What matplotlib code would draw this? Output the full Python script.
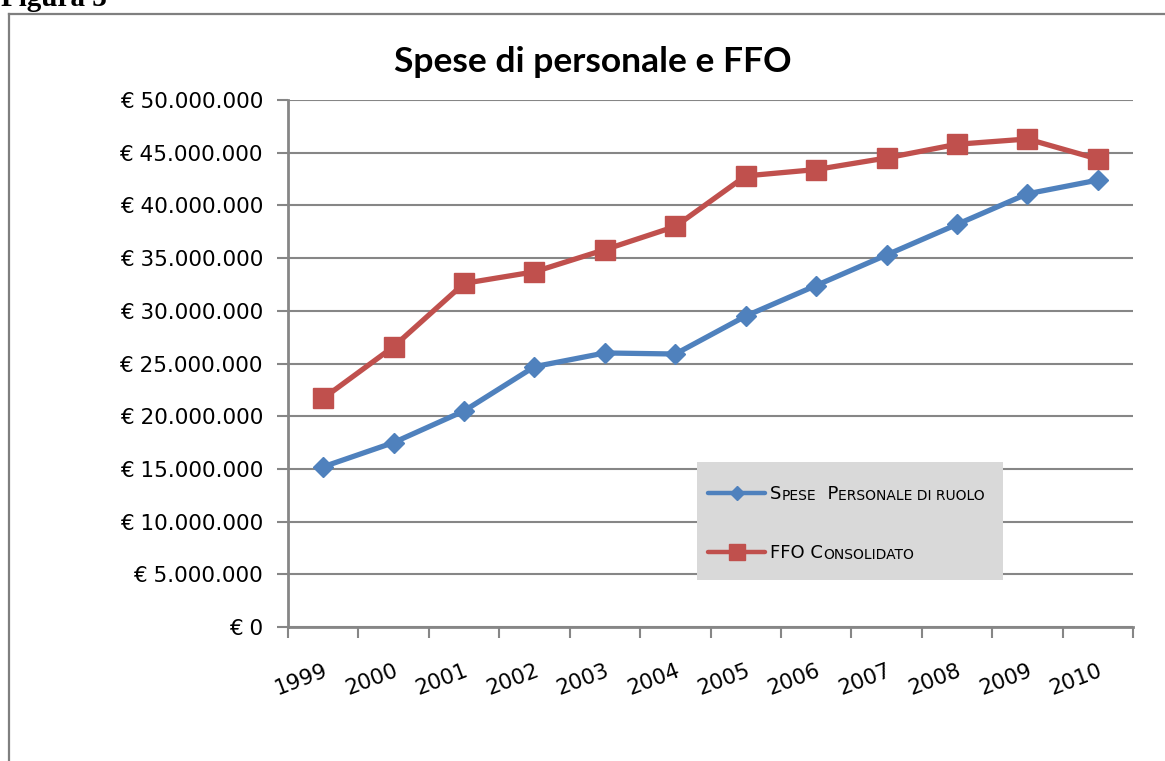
import numpy as np
import matplotlib.pyplot as plt
from matplotlib.lines import Line2D
from matplotlib.patches import Rectangle

# data
anni = ['1999', '2000', '2001', '2002', '2003', '2004',
        '2005', '2006', '2007', '2008', '2009', '2010']
spese_personale = [15.2, 17.5, 20.5, 24.7, 26.0, 25.9,
                   29.5, 32.4, 35.3, 38.2, 41.1, 42.4]   # milioni di euro
ffo_consolidato = [21.7, 26.6, 32.6, 33.7, 35.8, 38.0,
                   42.8, 43.4, 44.5, 45.8, 46.3, 44.4]   # milioni di euro
y_ticks = np.arange(0, 55, 5)

blu = '#4F81BD'
rosso = '#C0504D'
grigio = '#868686'

plt.rcParams['font.family'] = ['DejaVu Sans']

W, H = 1165, 761
fig = plt.figure(figsize=(W / 100, H / 100), dpi=100)

# cornice esterna e didascalia tagliata
fig.add_artist(Line2D([9 / W, 9 / W], [0, 1 - 14 / H], color='#7f7f7f', lw=1.6))
fig.add_artist(Line2D([9 / W, 1], [1 - 14 / H, 1 - 14 / H], color='#7f7f7f', lw=1.6))
fig.text(1 / W, 1 - 6 / H, 'Figura 3', family='Liberation Serif', weight='bold',
         fontsize=21, va='baseline', ha='left')

ax = fig.add_axes([288 / W, 1 - 627 / H, (1133 - 288) / W, (627 - 100) / H])

x = np.arange(len(anni))
ax.plot(x, spese_personale, color=blu, lw=3.8, marker='D', markersize=10,
        solid_capstyle='round', zorder=3)
ax.plot(x, ffo_consolidato, color=rosso, lw=3.8, marker='s', markersize=14,
        solid_capstyle='round', zorder=3)

ax.set_xlim(-0.5, len(anni) - 0.5)
ax.set_ylim(0, 50)

ax.set_yticks(y_ticks)
ax.set_yticklabels(['€ 0' if v == 0 else '€ ' + f'{v * 1000000:,.0f}'.replace(',', '.')
                    for v in y_ticks], fontsize=15.5)
ax.yaxis.grid(True, color=grigio, lw=1.5)
ax.set_axisbelow(True)

ax.set_xticks(np.arange(-0.5, len(anni), 1))
ax.set_xticklabels([])
ax.set_xticks(x, minor=True)
ax.set_xticklabels(anni, minor=True, rotation=21, ha='right',
                   rotation_mode='anchor', fontsize=15.5)
ax.tick_params(axis='x', which='minor', length=0, pad=24)
ax.tick_params(axis='x', which='major', length=8, width=1.5, color=grigio)
ax.tick_params(axis='y', length=8, width=1.5, color=grigio, pad=10)

for s in ['top', 'right']:
    ax.spines[s].set_visible(False)
for s in ['left', 'bottom']:
    ax.spines[s].set_color(grigio)
    ax.spines[s].set_linewidth(2)

fig.text((395 + 790) / 2 / W, 1 - 62 / H, 'Spese di personale e FFO',
         ha='center', va='center', fontsize=25.5, weight='bold', family='Lato')

# legenda disegnata a mano per avere il maiuscoletto
def px(xp, yp):
    return ((xp - 288) / (1133 - 288), (627 - yp) / (627 - 100))

x0, y0 = px(697, 580)
x1, y1 = px(1003, 462)
ax.add_patch(Rectangle((x0, y0), x1 - x0, y1 - y0, transform=ax.transAxes,
                       facecolor='#d9d9d9', edgecolor='none', zorder=4))

def maiuscoletto(xy, parole):
    prev = None
    for grande, piccolo in parole:
        for testo, size in [(grande, 13), (piccolo, 10)]:
            if not testo:
                continue
            if prev is None:
                prev = ax.annotate(testo, xy, xycoords='axes fraction',
                                   fontsize=size, va='baseline', zorder=5)
            else:
                prev = ax.annotate(testo, (1, 0), xycoords=prev,
                                   fontsize=size, va='bottom', zorder=5,
                                   annotation_clip=False)

voci = [
    (blu, 'D', 7, 493, [('S', 'PESE'), ('  P', 'ERSONALE DI RUOLO')]),
    (rosso, 's', 11, 552, [('FFO C', 'ONSOLIDATO')]),
]
for col, mk, ms, yp, parole in voci:
    a, b = px(708, yp)
    c, _ = px(765, yp)
    ax.add_line(Line2D([a, c], [b, b], color=col, lw=3.2, transform=ax.transAxes,
                       zorder=5, solid_capstyle='round'))
    ax.add_line(Line2D([(a + c) / 2], [b], color=col, marker=mk, markersize=ms,
                       transform=ax.transAxes, zorder=6))
    tx, ty = px(770, yp + 6)
    maiuscoletto((tx, ty), parole)

fig.savefig('out.png', dpi=100)
